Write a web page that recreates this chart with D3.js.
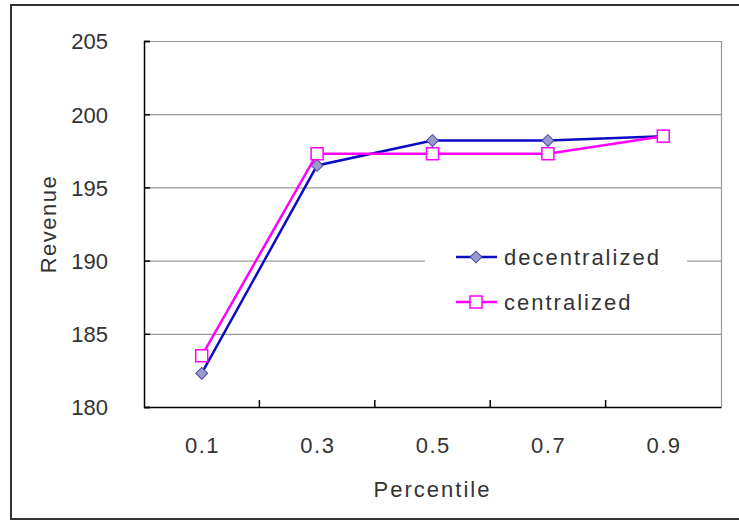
<!DOCTYPE html>
<html>
<head>
<meta charset="utf-8">
<script src="https://cdn.jsdelivr.net/npm/d3@7"></script>
<style>
  body { margin: 0; background: #fff; }
  svg { display: block; font-family: "Liberation Sans", Arial, sans-serif; }
</style>
</head>
<body>
<div id="chart"></div>
<script>
// Dados do grafico
const percentiles = ["0.1", "0.3", "0.5", "0.7", "0.9"];
const decentralized = [182.3, 196.5, 198.2, 198.2, 198.5];
const centralized = [183.5, 197.3, 197.3, 197.3, 198.5];
const yTicks = [180, 185, 190, 195, 200, 205];

const svgWidth = 739,
  svgHeight = 521;
const margin = { top: 41, right: 18, bottom: 114, left: 144 };
const width = svgWidth - margin.left - margin.right;
const height = svgHeight - margin.top - margin.bottom;

const svg = d3
  .select("#chart")
  .append("svg")
  .attr("width", svgWidth)
  .attr("height", svgHeight);

// Moldura externa
svg
  .append("rect")
  .attr("x", 11)
  .attr("y", 5)
  .attr("width", 740)
  .attr("height", 514)
  .attr("fill", "#fff")
  .attr("stroke", "#333")
  .attr("stroke-width", 2);

const g = svg
  .append("g")
  .attr("transform", `translate(${margin.left}, ${margin.top})`);

const x = d3.scaleBand().domain(percentiles).range([0, width]);
const y = d3.scaleLinear().domain([180, 205]).range([height, 0]);

// Linhas de grade
g.selectAll(".grid")
  .data(yTicks.slice(1))
  .enter()
  .append("line")
  .attr("x1", 0)
  .attr("x2", width)
  .attr("y1", (d) => y(d) + 0.5)
  .attr("y2", (d) => y(d) + 0.5)
  .attr("stroke", "#999")
  .attr("stroke-width", 1.2);

// Borda direita da area do grafico
g.append("line")
  .attr("x1", width + 0.5)
  .attr("x2", width + 0.5)
  .attr("y1", 0)
  .attr("y2", height)
  .attr("stroke", "#999")
  .attr("stroke-width", 1.2);

// Eixo Y
const yAxis = g
  .append("g")
  .call(d3.axisLeft(y).tickValues(yTicks).tickSize(-6).tickPadding(36));
yAxis.select(".domain").attr("stroke", "#000").attr("stroke-width", 1.5);
yAxis.selectAll(".tick line").attr("stroke", "#000").attr("stroke-width", 1.5);
yAxis
  .selectAll("text")
  .attr("fill", "#333")
  .style("font-size", "22px")
  .attr("dy", "0.36em");

// Eixo X com marcas entre categorias
const xAxis = g
  .append("g")
  .attr("transform", `translate(0, ${height})`)
  .call(d3.axisBottom(x).tickSize(0).tickPadding(30));
xAxis.select(".domain").attr("stroke", "#000").attr("stroke-width", 1.5);
xAxis
  .selectAll("text")
  .attr("fill", "#333")
  .style("font-size", "22px")
  .style("letter-spacing", "1.5px")
  .attr("dx", "0.75px")
  .attr("dy", "0.71em");

g.selectAll(".xtick")
  .data(percentiles.slice(1))
  .enter()
  .append("line")
  .attr("x1", (d) => x(d))
  .attr("x2", (d) => x(d))
  .attr("y1", height)
  .attr("y2", height - 7)
  .attr("stroke", "#000")
  .attr("stroke-width", 1.5);

// Titulos dos eixos
svg
  .append("text")
  .attr("x", margin.left + width / 2)
  .attr("y", 497)
  .attr("text-anchor", "middle")
  .attr("fill", "#333")
  .style("font-size", "22px")
  .style("letter-spacing", "2px")
  .text("Percentile");

svg
  .append("text")
  .attr("transform", `translate(56, ${margin.top + height / 2}) rotate(-90)`)
  .attr("text-anchor", "middle")
  .attr("fill", "#333")
  .style("font-size", "22px")
  .style("letter-spacing", "1.5px")
  .text("Revenue");

// Series
const series = [
  { name: "decentralized", values: decentralized, color: "#0c0cc4", marker: "diamond" },
  { name: "centralized", values: centralized, color: "#ff00ff", marker: "square" },
];

const line = d3
  .line()
  .x((d, i) => x(percentiles[i]) + x.bandwidth() / 2)
  .y((d) => y(d));

function drawMarker(sel, s) {
  if (s.marker === "diamond") {
    sel
      .append("path")
      .attr("d", d3.symbol(d3.symbolSquare, 70)())
      .attr("transform", "rotate(45)")
      .attr("fill", "#9a9ace")
      .attr("stroke", "#4848a8")
      .attr("stroke-width", 1);
  } else {
    sel
      .append("rect")
      .attr("x", -6)
      .attr("y", -6)
      .attr("width", 12)
      .attr("height", 12)
      .attr("fill", "#fff")
      .attr("stroke", s.color)
      .attr("stroke-width", 1.5);
  }
}

series.forEach((s) => {
  g.append("path")
    .datum(s.values)
    .attr("d", line)
    .attr("fill", "none")
    .attr("stroke", s.color)
    .attr("stroke-width", 2.5);

  g.selectAll(".pt-" + s.marker)
    .data(s.values)
    .enter()
    .append("g")
    .attr(
      "transform",
      (d, i) => `translate(${x(percentiles[i]) + x.bandwidth() / 2}, ${y(d)})`
    )
    .each(function () {
      drawMarker(d3.select(this), s);
    });
});

// Legenda
const legend = svg.append("g").attr("transform", "translate(425, 236)");
legend
  .append("rect")
  .attr("width", 262)
  .attr("height", 80)
  .attr("fill", "#fff");

series.forEach((s, i) => {
  const row = legend.append("g").attr("transform", `translate(0, ${21 + i * 45})`);
  row
    .append("line")
    .attr("x1", 31)
    .attr("x2", 72)
    .attr("stroke", s.color)
    .attr("stroke-width", 2.5);
  drawMarker(row.append("g").attr("transform", "translate(51, 0)"), s);
  row
    .append("text")
    .attr("x", 79)
    .attr("dy", "0.36em")
    .attr("fill", "#333")
    .style("font-size", "22px")
    .style("letter-spacing", "2px")
    .text(s.name);
});
</script>
</body>
</html>
